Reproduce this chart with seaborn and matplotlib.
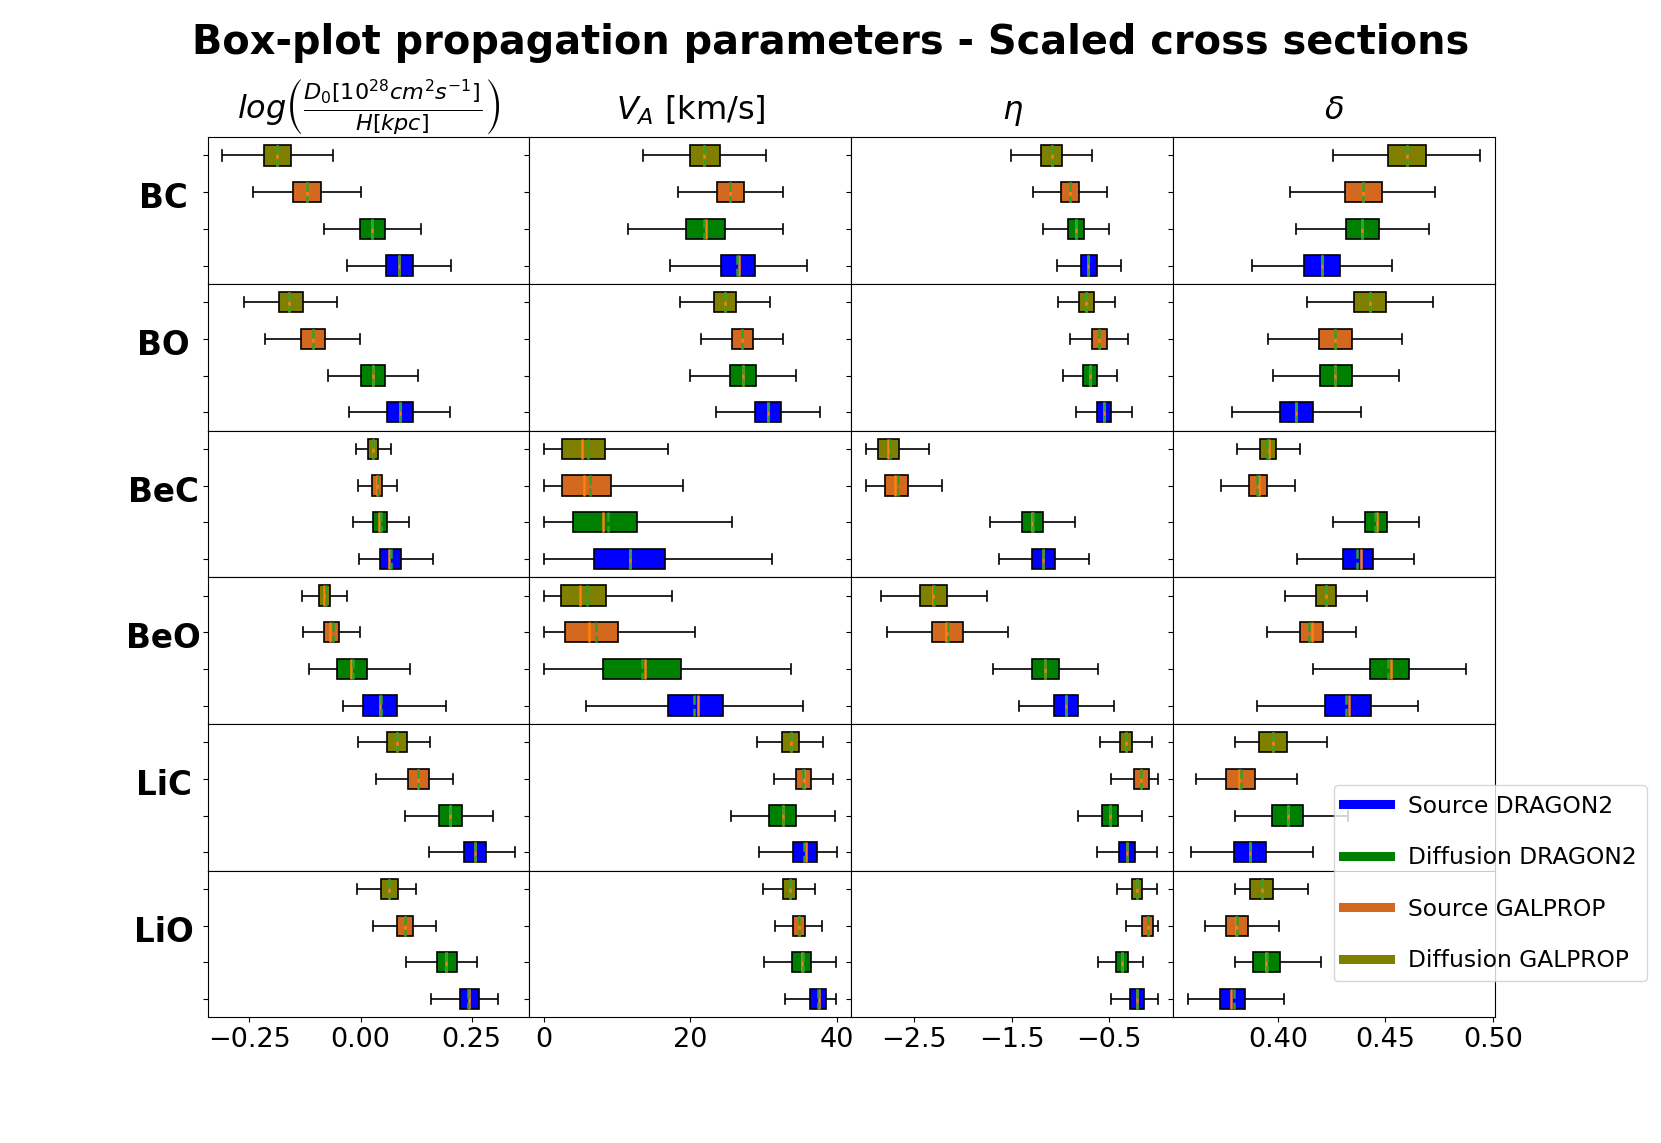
import numpy as np
import pandas as pd
import matplotlib
matplotlib.use("Agg")
import matplotlib.pyplot as plt
from matplotlib.lines import Line2D
import seaborn as sns

# ---------------- data ----------------
ROWS = ["BC", "BO", "BeC", "BeO", "LiC", "LiO"]
MODELS = ["Diffusion GALPROP", "Source GALPROP", "Diffusion DRAGON2", "Source DRAGON2"]
COLORS = ["olive", "chocolate", "green", "blue"]
LEGEND_ORDER = ["Source DRAGON2", "Diffusion DRAGON2", "Source GALPROP", "Diffusion GALPROP"]
TITLES = [r"$log\left(\frac{D_0[10^{28}cm^2s^{-1}]}{H[kpc]}\right)$",
          r"$V_A$ [km/s]", r"$\eta$", r"$\delta$"]
XTICKS = [[-0.25, 0.0, 0.25], [0, 20, 40], [-2.5, -1.5, -0.5], [0.40, 0.45, 0.50]]

# each box: (whisker low, Q1, median, Q3, whisker high, mean); models in MODELS order
LOG_D0_H = [
    [(-0.311, -0.218, -0.187, -0.156, -0.063, -0.187), (-0.242, -0.151, -0.121, -0.089, 0.002, -0.121),
     (-0.082, -0.002, 0.026, 0.054, 0.136, 0.026), (-0.030, 0.058, 0.087, 0.117, 0.204, 0.087)],
    [(-0.262, -0.184, -0.160, -0.130, -0.052, -0.160), (-0.214, -0.134, -0.106, -0.079, -0.001, -0.106),
     (-0.073, 0.002, 0.029, 0.054, 0.130, 0.029), (-0.025, 0.060, 0.088, 0.118, 0.202, 0.088)],
    [(-0.010, 0.017, 0.028, 0.039, 0.069, 0.029), (-0.006, 0.025, 0.037, 0.049, 0.082, 0.040),
     (-0.018, 0.027, 0.041, 0.060, 0.108, 0.045), (-0.004, 0.043, 0.063, 0.090, 0.163, 0.069)],
    [(-0.131, -0.094, -0.082, -0.068, -0.031, -0.077), (-0.129, -0.082, -0.068, -0.049, -0.002, -0.061),
     (-0.116, -0.052, -0.022, 0.014, 0.112, -0.016), (-0.039, 0.006, 0.043, 0.082, 0.192, 0.046)],
    [(-0.006, 0.059, 0.081, 0.104, 0.156, 0.081), (0.034, 0.106, 0.130, 0.154, 0.208, 0.130),
     (0.100, 0.176, 0.202, 0.229, 0.299, 0.202), (0.155, 0.232, 0.257, 0.283, 0.347, 0.257)],
    [(-0.007, 0.047, 0.065, 0.085, 0.125, 0.065), (0.029, 0.083, 0.100, 0.119, 0.169, 0.100),
     (0.103, 0.171, 0.193, 0.216, 0.261, 0.193), (0.158, 0.223, 0.244, 0.266, 0.309, 0.242)],
]

V_A = [
    [(13.5, 19.9, 21.9, 24.1, 30.4, 21.9), (18.3, 23.7, 25.4, 27.3, 32.7, 25.4),
     (11.5, 19.4, 22.2, 24.7, 32.6, 21.8), (17.2, 24.2, 26.6, 28.9, 35.9, 26.4)],
    [(18.6, 23.2, 24.7, 26.3, 30.9, 24.8), (21.5, 25.7, 27.1, 28.5, 32.7, 27.1),
     (20.0, 25.4, 27.2, 29.0, 34.4, 27.2), (23.5, 28.8, 30.6, 32.4, 37.7, 30.6)],
    [(0.0, 2.5, 5.15, 8.3, 16.9, 5.97), (0.0, 2.5, 5.5, 9.2, 19.0, 6.3),
     (0.0, 3.9, 8.0, 12.7, 25.7, 8.75), (0.0, 6.8, 11.8, 16.5, 31.1, 11.8)],
    [(0.0, 2.3, 4.9, 8.4, 17.5, 5.9), (0.0, 2.9, 6.1, 10.1, 20.7, 7.1),
     (0.0, 8.1, 13.8, 18.7, 33.7, 13.4), (5.8, 17.0, 21.05, 24.5, 35.4, 20.5)],
    [(29.1, 32.5, 33.7, 34.8, 38.1, 33.7), (31.4, 34.4, 35.6, 36.5, 39.5, 35.4),
     (25.6, 30.8, 32.6, 34.5, 39.8, 32.6), (29.4, 34.1, 35.8, 37.3, 40.0, 35.6)],
    [(29.9, 32.7, 33.6, 34.5, 37.1, 33.6), (31.6, 34.0, 34.85, 35.7, 38.0, 34.85),
     (30.1, 33.9, 35.3, 36.5, 39.9, 35.4), (33.0, 36.4, 37.6, 38.6, 39.95, 37.4)],
]

ETA = [
    [(-1.501, -1.194, -1.087, -0.982, -0.674, -1.087), (-1.276, -0.995, -0.903, -0.804, -0.524, -0.903),
     (-1.180, -0.924, -0.838, -0.753, -0.500, -0.838), (-1.036, -0.790, -0.712, -0.626, -0.380, -0.712)],
    [(-1.019, -0.804, -0.732, -0.657, -0.439, -0.732), (-0.896, -0.674, -0.599, -0.524, -0.302, -0.599),
     (-0.968, -0.763, -0.695, -0.623, -0.418, -0.695), (-0.835, -0.623, -0.551, -0.476, -0.264, -0.551)],
    [(-2.997, -2.868, -2.772, -2.659, -2.348, -2.748), (-2.997, -2.796, -2.693, -2.560, -2.212, -2.669),
     (-1.720, -1.398, -1.292, -1.180, -0.852, -1.285), (-1.627, -1.286, -1.173, -1.050, -0.705, -1.173)],
    [(-2.840, -2.437, -2.307, -2.160, -1.757, -2.294), (-2.782, -2.321, -2.177, -2.003, -1.539, -2.157),
     (-1.689, -1.289, -1.152, -1.016, -0.616, -1.159), (-1.422, -1.060, -0.937, -0.814, -0.452, -0.937)],
    [(-0.592, -0.391, -0.325, -0.258, -0.060, -0.325), (-0.483, -0.247, -0.168, -0.083, 0.009, -0.168),
     (-0.818, -0.572, -0.486, -0.404, -0.162, -0.486), (-0.619, -0.394, -0.319, -0.237, -0.008, -0.319)],
    [(-0.421, -0.264, -0.216, -0.162, -0.008, -0.216), (-0.326, -0.158, -0.100, -0.045, 0.009, -0.100),
     (-0.613, -0.428, -0.367, -0.302, -0.148, -0.367), (-0.476, -0.281, -0.213, -0.141, 0.009, -0.213)],
]

DELTA = [
    [(0.4258, 0.4513, 0.4601, 0.4688, 0.4941, 0.4601), (0.4058, 0.4311, 0.4396, 0.4482, 0.4731, 0.4396),
     (0.4084, 0.4317, 0.4391, 0.4471, 0.4701, 0.4391), (0.3879, 0.4123, 0.4203, 0.4290, 0.4532, 0.4203)],
    [(0.4135, 0.4353, 0.4430, 0.4503, 0.4720, 0.4430), (0.3956, 0.4189, 0.4266, 0.4347, 0.4578, 0.4266),
     (0.3976, 0.4195, 0.4265, 0.4343, 0.4561, 0.4265), (0.3786, 0.4010, 0.4086, 0.4163, 0.4387, 0.4086)],
    [(0.3812, 0.3919, 0.3957, 0.3993, 0.4103, 0.3951), (0.3738, 0.3865, 0.3911, 0.3951, 0.4078, 0.3905),
     (0.4255, 0.4405, 0.4461, 0.4508, 0.4657, 0.4450), (0.4090, 0.4302, 0.4387, 0.4444, 0.4634, 0.4367)],
    [(0.4035, 0.4177, 0.4225, 0.4272, 0.4413, 0.4225), (0.3948, 0.4103, 0.4161, 0.4209, 0.4363, 0.4147),
     (0.4164, 0.4430, 0.4527, 0.4609, 0.4876, 0.4512), (0.3905, 0.4218, 0.4331, 0.4433, 0.4650, 0.4317)],
    [(0.3800, 0.3914, 0.3977, 0.4042, 0.4228, 0.3977), (0.3621, 0.3757, 0.3821, 0.3893, 0.4090, 0.3828),
     (0.3800, 0.3972, 0.4045, 0.4115, 0.4325, 0.4045), (0.3598, 0.3798, 0.3871, 0.3947, 0.4163, 0.3871)],
    [(0.3800, 0.3869, 0.3927, 0.3979, 0.4140, 0.3927), (0.3660, 0.3757, 0.3805, 0.3859, 0.4005, 0.3811),
     (0.3800, 0.3883, 0.3947, 0.4012, 0.4201, 0.3951), (0.3581, 0.3729, 0.3780, 0.3849, 0.4027, 0.3794)],
]

PARAMS = [LOG_D0_H, V_A, ETA, DELTA]

# ---------------- plot ----------------
fig, axes = plt.subplots(6, 4, figsize=(16.61, 11.43), dpi=100, sharex="col")
fig.subplots_adjust(hspace=0, wspace=0)
palette = dict(zip(MODELS, COLORS))

for j, param in enumerate(PARAMS):
    for i, row in enumerate(ROWS):
        ax = axes[i, j]
        cell = param[i]
        box_df = pd.DataFrame({
            "model": np.repeat(MODELS, 5),
            "value": [v for stats in cell for v in stats[:5]],
        })
        sns.boxplot(data=box_df, x="value", y="model", order=MODELS, hue="model",
                    hue_order=MODELS, palette=palette, saturation=1, dodge=False,
                    width=0.55, whis=(0, 100), showfliers=False, linecolor="black",
                    linewidth=1.2, legend=False,
                    medianprops=dict(color="#ff7f0e", linewidth=1.8), ax=ax)
        mean_df = pd.DataFrame({"model": MODELS, "value": [stats[5] for stats in cell]})
        sns.boxplot(data=mean_df, x="value", y="model", order=MODELS, width=0.55,
                    whis=(0, 100), showfliers=False, showcaps=False, fill=False,
                    boxprops=dict(visible=False), whiskerprops=dict(visible=False),
                    medianprops=dict(color="#2ca02c", linewidth=1.8, linestyle="--"),
                    legend=False, ax=ax)
        ax.set_xlabel("")
        ax.set_ylabel("")
        ax.tick_params(axis="y", labelleft=False)
        if i < len(ROWS) - 1:
            ax.tick_params(axis="x", bottom=False, labelbottom=False)
        else:
            ax.set_xticks(XTICKS[j])
            ax.tick_params(axis="x", labelsize=19.5)
        if j == 0:
            ax.text(-0.137, 0.58, row, transform=ax.transAxes, ha="center", va="center",
                    fontsize=23.5, fontweight="bold")
    axes[0, j].set_title(TITLES[j], fontsize=23, pad=13)

fig.suptitle("Box-plot propagation parameters - Scaled cross sections",
             fontsize=28.7, fontweight="bold")

handles = [Line2D([], [], color=palette[m], lw=6.5) for m in LEGEND_ORDER]
fig.legend(handles, LEGEND_ORDER, loc="upper left", bbox_to_anchor=(0.803, 0.313),
           borderaxespad=0, fontsize=16.8, labelspacing=1.22)

fig.savefig("out.png", dpi=100)
